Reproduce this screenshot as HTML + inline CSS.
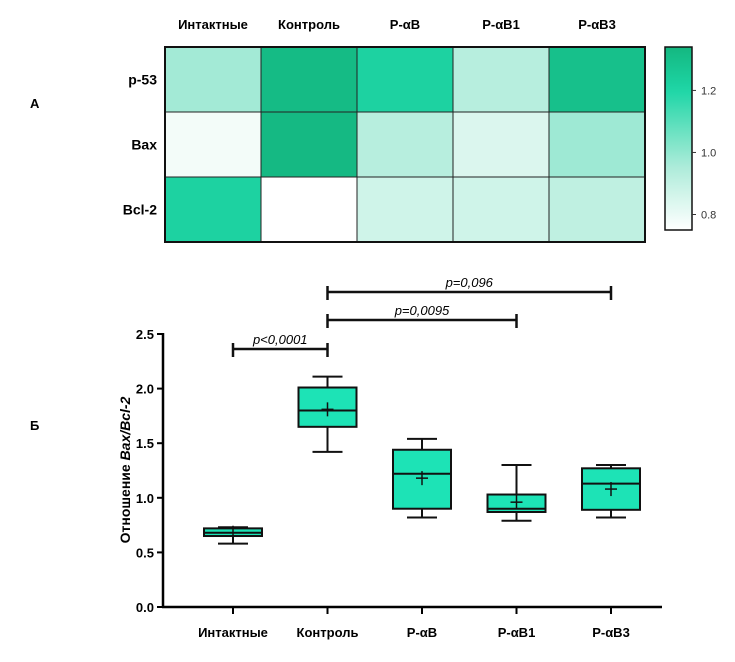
<!DOCTYPE html>
<html><head><meta charset="utf-8"><style>
body{margin:0;background:#fff;}
svg{display:block;font-family:"Liberation Sans",Arial,sans-serif;}
</style></head><body>
<svg id="fig" width="735" height="662" viewBox="0 0 735 662">
<text x="30" y="108" font-size="13" font-weight="bold">А</text>
<text x="30" y="430" font-size="13" font-weight="bold">Б</text>
<g id="heat"></g>
<g id="box"></g>
</svg>
<script>
const hmCols = ["Интактные","Контроль","P-αB","P-αB1","P-αB3"];
const hmRows = ["p-53","Bax","Bcl-2"];
const hmP53 = [0.97,1.32,1.22,0.93,1.30];
const hmBax = [0.78,1.33,0.93,0.84,0.98];
const hmBcl = [1.22,0.75,0.87,0.87,0.91];
const cbTicks = [0.8,1.0,1.2];

const bpCats = ["Интактные","Контроль","P-αB","P-αB1","P-αB3"];
const bpMin = [0.58,1.42,0.82,0.79,0.82];
const bpQ1 = [0.65,1.65,0.90,0.87,0.89];
const bpMed = [0.68,1.80,1.22,0.90,1.13];
const bpQ3 = [0.72,2.01,1.44,1.03,1.27];
const bpMax = [0.73,2.11,1.54,1.30,1.30];
const bpMean = [0.68,1.81,1.18,0.96,1.08];
const yTicks = [0.0,0.5,1.0,1.5,2.0,2.5];
const yTickLabels = ["0.0","0.5","1.0","1.5","2.0","2.5"];
const sigFrom = [0,1,1];
const sigTo = [1,3,4];
const sigLabels = ["p<0,0001","p=0,0095","p=0,096"];

const NS="http://www.w3.org/2000/svg";
function mk(p,t,a,txt){const e=document.createElementNS(NS,t);for(const k in a)e.setAttribute(k,a[k]);if(txt!=null)e.textContent=txt;p.appendChild(e);return e;}
function lerp(a,b,t){return Math.round(a+(b-a)*t);}
function col(v){
  const pts=[0.75,0.95,1.2,1.34];
  const s=[[255,255,255],[175,236,218],[30,214,166],[20,183,128]];
  v=Math.max(0.75,Math.min(1.34,v));
  let i=0;while(i<2&&v>pts[i+1])i++;
  const u=(v-pts[i])/(pts[i+1]-pts[i]);
  return `rgb(${lerp(s[i][0],s[i+1][0],u)},${lerp(s[i][1],s[i+1][1],u)},${lerp(s[i][2],s[i+1][2],u)})`;
}
// heatmap
const H=document.getElementById('heat');
const hx0=165,hx1=645,hy0=47,hy1=242;
const cw=(hx1-hx0)/hmCols.length,ch=(hy1-hy0)/hmRows.length;
const hmData=[hmP53,hmBax,hmBcl];
hmData.forEach((row,r)=>row.forEach((v,c)=>{
  const e=mk(H,'rect',{x:hx0+c*cw,y:hy0+r*ch,width:cw,height:ch,fill:col(v),stroke:'#222','stroke-width':1});
  
  
}));
mk(H,'rect',{x:hx0,y:hy0,width:hx1-hx0,height:hy1-hy0,fill:'none',stroke:'#111','stroke-width':2});
hmCols.forEach((n,c)=>{const e=mk(H,'text',{x:hx0+c*cw+cw/2,y:29,'text-anchor':'middle','font-size':13,'font-weight':'bold'},n);
  });
hmRows.forEach((n,r)=>{const e=mk(H,'text',{x:157,y:hy0+r*ch+ch/2+5,'text-anchor':'end','font-size':14,'font-weight':'bold'},n);
  });
// colorbar
const cbx=665,cby0=47,cby1=230,cbw=27;
const defs=mk(H,'defs',{});const g=mk(defs,'linearGradient',{id:'cbg',x1:0,y1:1,x2:0,y2:0});
for(let i=0;i<=20;i++){mk(g,'stop',{offset:i/20,'stop-color':col(0.75+0.59*i/20)});}
const cb=mk(H,'rect',{x:cbx,y:cby0,width:cbw,height:cby1-cby0,fill:'url(#cbg)',stroke:'#111','stroke-width':1.5});

const cbY=v=>cby1-(v-0.75)/(1.34-0.75)*(cby1-cby0);
cbTicks.forEach(v=>{const y=cbY(v);mk(H,'line',{x1:cbx+cbw,x2:cbx+cbw+4,y1:y,y2:y,stroke:'#333'});
  const e=mk(H,'text',{x:cbx+cbw+9,y:y+4,'font-size':11,fill:'#333'},v.toFixed(1));
  });
// boxplot
const B=document.getElementById('box');
const ax=163,y0=607,yTop=334,axR=662;
const Y=v=>y0-v/2.5*(y0-yTop);
const X=i=>233+i*94.5;
mk(B,'line',{x1:ax,x2:ax,y1:yTop-1,y2:y0+1,stroke:'#000','stroke-width':2.5});
mk(B,'line',{x1:ax-1,x2:axR,y1:y0,y2:y0,stroke:'#000','stroke-width':2.5});
yTicks.forEach((v,i)=>{const y=Y(v);mk(B,'line',{x1:ax-6,x2:ax,y1:y,y2:y,stroke:'#000','stroke-width':2});
  const e=mk(B,'text',{x:ax-9,y:y+5,'text-anchor':'end','font-size':13,'font-weight':'bold'},yTickLabels[i]);
  });
const yt=mk(B,'text',{transform:'translate(130,470) rotate(-90)','text-anchor':'middle','font-size':14,'font-weight':'bold'});

yt.innerHTML='Отношение <tspan font-style="italic">Bax/Bcl-2</tspan>';
bpCats.forEach((n,i)=>{const x=X(i);
  mk(B,'line',{x1:x,x2:x,y1:y0,y2:y0+7,stroke:'#000','stroke-width':2});
  const t=mk(B,'text',{x:x,y:y0+30,'text-anchor':'middle','font-size':13,'font-weight':'bold'},n);
  
  const hw=29;
  const w1=mk(B,'line',{x1:x,x2:x,y1:Y(bpMax[i]),y2:Y(bpMin[i]),stroke:'#111','stroke-width':2});
  
  [bpMax[i],bpMin[i]].forEach(v=>mk(B,'line',{x1:x-15,x2:x+15,y1:Y(v),y2:Y(v),stroke:'#111','stroke-width':2}));
  const r=mk(B,'rect',{x:x-hw,y:Y(bpQ3[i]),width:2*hw,height:Y(bpQ1[i])-Y(bpQ3[i]),fill:'#1de3b6',stroke:'#111','stroke-width':2});
  
  mk(B,'line',{x1:x-hw,x2:x+hw,y1:Y(bpMed[i]),y2:Y(bpMed[i]),stroke:'#111','stroke-width':2});
  const m=Y(bpMean[i]);
  mk(B,'line',{x1:x-6,x2:x+6,y1:m,y2:m,stroke:'#111','stroke-width':1.5});
  mk(B,'line',{x1:x,x2:x,y1:m-7,y2:m+7,stroke:'#111','stroke-width':1.5});
});
const sigY=[349,320,292];
sigFrom.forEach((f,k)=>{const x1=X(f),x2=X(sigTo[k]),y=sigY[k];
  const l=mk(B,'line',{x1:x1,x2:x2,y1:y,y2:y,stroke:'#111','stroke-width':2.5});
  
  [x1,x2].forEach(x=>mk(B,'line',{x1:x,x2:x,y1:y-6,y2:y+8,stroke:'#111','stroke-width':2.5}));
  const t=mk(B,'text',{x:(x1+x2)/2,y:y-5,'text-anchor':'middle','font-size':13,'font-style':'italic'},sigLabels[k]);
  
});
</script>
</body></html>
